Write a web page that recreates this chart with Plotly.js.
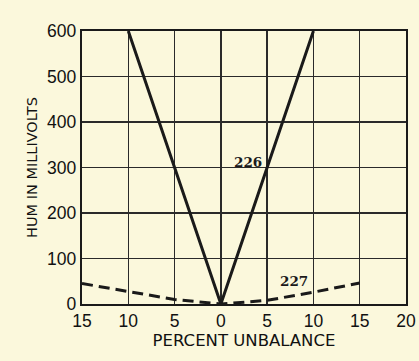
<!DOCTYPE html>
<html><head><meta charset="utf-8">
<script src="https://cdn.plot.ly/plotly-3.0.1.min.js"></script>
<style>html,body{margin:0;padding:0;background:#fbf8dc;}</style>
</head><body>
<div id="chart" style="width:419px;height:361px;"></div>
<script>
const xTickVals = [-15, -10, -5, 0, 5, 10, 15, 20];
const xTickText = ["15", "10", "5", "0", "5", "10", "15", "20"];
const yTickVals = [0, 100, 200, 300, 400, 500, 600];
const x226 = [-10, 0, 10];
const y226 = [600, 0, 600];
const x227 = [-15, -10, -5, 0, 5, 10, 15];
const y227 = [45, 27, 10, 0, 8, 26, 46];
const labelText = ["226", "227"];
const labelX = [2.9, 7.9];
const labelY = [313, 50];

const traces = [
  {x: x226, y: y226, mode: 'lines', line: {color: '#1a1a1a', width: 3}, hoverinfo: 'skip'},
  {x: x227, y: y227, mode: 'lines', line: {color: '#1a1a1a', width: 3, dash: '11px,6px'}, hoverinfo: 'skip'}
];
const annotations = labelText.map((t, i) => ({
  x: labelX[i], y: labelY[i], text: '<b>' + t + '</b>', showarrow: false,
  font: {family: 'DejaVu Serif, serif', size: 13.5, color: '#1a1a1a'}
}));
const tickFont = {family: 'Liberation Sans, Arial, sans-serif', size: 17.5, color: '#111'};
const layout = {
  width: 419, height: 361,
  margin: {l: 82, r: 13, t: 31, b: 57},
  paper_bgcolor: '#fbf8dc', plot_bgcolor: '#fbf8dc',
  showlegend: false,
  xaxis: {
    range: [-15, 20], tickvals: xTickVals, ticktext: xTickText,
    showgrid: true, gridcolor: '#2a2a2a', gridwidth: 1.4,
    zeroline: false, showline: true, linecolor: '#1a1a1a', linewidth: 2.2, mirror: true,
    ticks: '', tickfont: tickFont, ticklabelstandoff: 0,
    title: {text: 'PERCENT UNBALANCE', font: {family: 'DejaVu Sans, sans-serif', size: 16.5, color: '#111'}, standoff: 3}
  },
  yaxis: {
    range: [0, 600], tickvals: yTickVals,
    showgrid: true, gridcolor: '#2a2a2a', gridwidth: 1.4,
    zeroline: false, showline: true, linecolor: '#1a1a1a', linewidth: 2.2, mirror: true,
    ticks: '', tickfont: tickFont, ticklabelstandoff: 0,
    title: {text: 'HUM IN MILLIVOLTS', font: {family: 'DejaVu Sans, sans-serif', size: 14.5, color: '#111'}, standoff: 6}
  },
  annotations: annotations
};
Plotly.newPlot('chart', traces, layout, {staticPlot: true, displayModeBar: false});
</script>
</body></html>
